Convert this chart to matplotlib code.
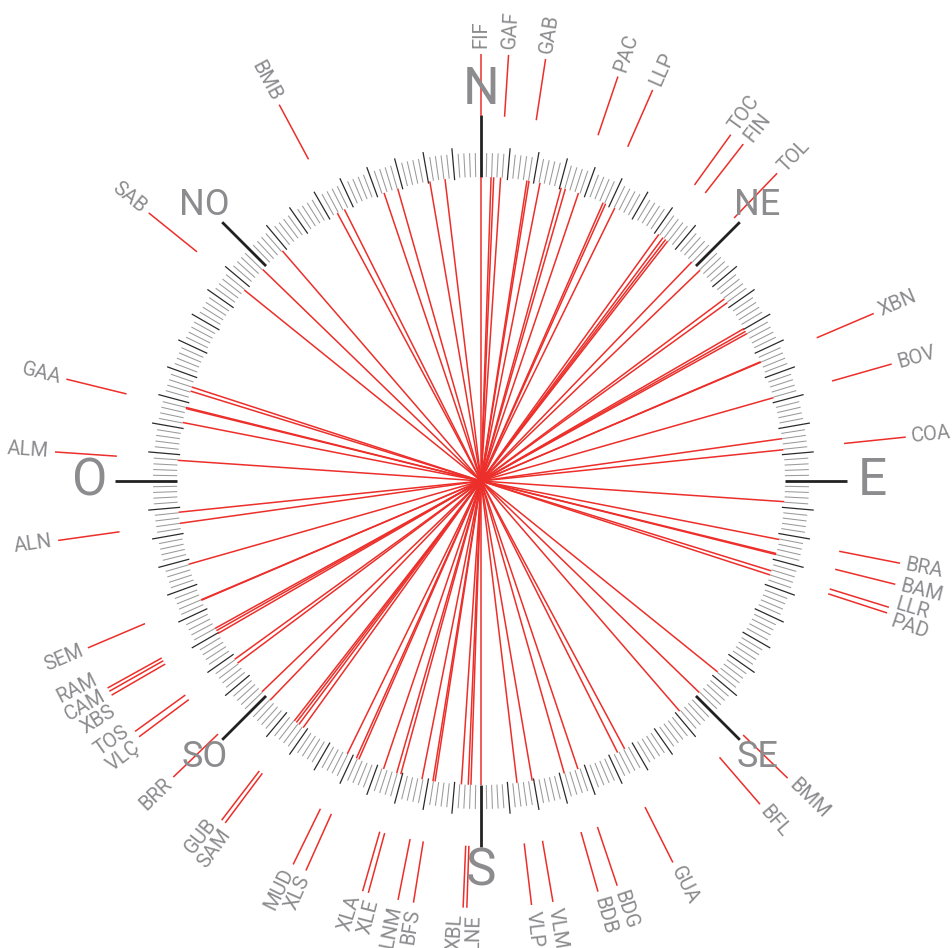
import numpy as np
import matplotlib
matplotlib.use("Agg")
import matplotlib.pyplot as plt

# estacións e dirección (graos desde o norte, sentido horario)
stations = ["FIF", "GAF", "GAB", "PAC", "LLP", "TOC", "FIN", "TOL", "XBN", "BOV",
            "COA", "BRA", "BAM", "LLR", "PAD", "BMM", "BFL", "GUA", "BDG", "BDB",
            "VLM", "VLP", "LNE", "XBL", "BFS", "LNM", "XLE", "XLA", "XLS", "MUD",
            "SAM", "GUB", "BRR", "VLÇ", "TOS", "XBS", "CAM", "RAM", "SEM", "ALN",
            "ALM", "GAA", "SAB", "BMB"]
angles = [0.0, 3.7, 8.7, 18.7, 23.7, 35.8, 37.9, 43.9, 66.9, 74.1,
          84.1, 101.1, 104.0, 107.2, 108.0, 134.1, 139.2, 153.3, 161.4, 164.1,
          170.3, 173.2, 181.9, 182.4, 189.1, 191.2, 195.3, 196.1, 204.2, 206.1,
          216.8, 217.4, 226.1, 233.2, 234.1, 239.9, 240.5, 241.0, 247.0, 262.0,
          273.9, 283.8, 308.9, 331.8]

compass = ["N", "NE", "E", "SE", "S", "SO", "O", "NO"]
compass_deg = [0, 45, 90, 135, 180, 225, 270, 315]

RED = "#ec2f2a"
GREY_TXT = "#8c8c8f"


def spread(vals, min_sep, n_iter=300):
    # separa as etiquetas que quedan demasiado xuntas
    order = np.argsort(vals)
    a = np.array(vals, dtype=float)[order]
    for _ in range(n_iter):
        for i in range(len(a) - 1):
            gap = a[i + 1] - a[i]
            if gap < min_sep:
                push = (min_sep - gap) / 2
                a[i] -= push
                a[i + 1] += push
    out = np.empty_like(a)
    out[order] = a
    return out


label_deg = spread(angles, 2.4)

fig = plt.figure(figsize=(9.52, 9.48), dpi=100)
R = 470
ax = fig.add_axes([(481 - R) / 952, (467 - R) / 948, 2 * R / 952, 2 * R / 948],
                  projection="polar")
ax.set_theta_zero_location("N")
ax.set_theta_direction(-1)
ax.set_ylim(0, R)
ax.axis("off")

# anel de marcas
deg = np.arange(360)
minor = deg[deg % 5 != 0]
major = deg[(deg % 5 == 0) & (deg % 45 != 0)]
ax.vlines(np.radians(minor), 304, 328, color="#9a9a9a", lw=0.75)
ax.vlines(np.radians(major), 302, 334, color="#2b2b2b", lw=0.9)
ax.vlines(np.radians(compass_deg), 304, 366, color="#222222", lw=2.0)

th = np.radians(angles)
# liñas polo centro
ax.vlines(th, 0, 304, color=RED, lw=1.1)
ax.vlines(th + np.pi, 0, 304, color=RED, lw=1.1)
# segmentos exteriores
ax.vlines(th, 365, 427, color=RED, lw=1.1)

for name, d in zip(stations, label_deg):
    if d < 180:
        rot, ha = 90 - d, "left"
    else:
        rot, ha = 270 - d, "right"
    ax.text(np.radians(d), 433, name, rotation=rot, ha=ha, va="center",
            rotation_mode="anchor", fontsize=14.5, color=GREY_TXT,
            family="Roboto")

for c, d in zip(compass, compass_deg):
    size = 37 if len(c) == 1 else 26
    ax.text(np.radians(d), 391, c, ha="center", va="center", fontsize=size,
            color=GREY_TXT, family="Roboto")

fig.savefig("out.png", dpi=100)
